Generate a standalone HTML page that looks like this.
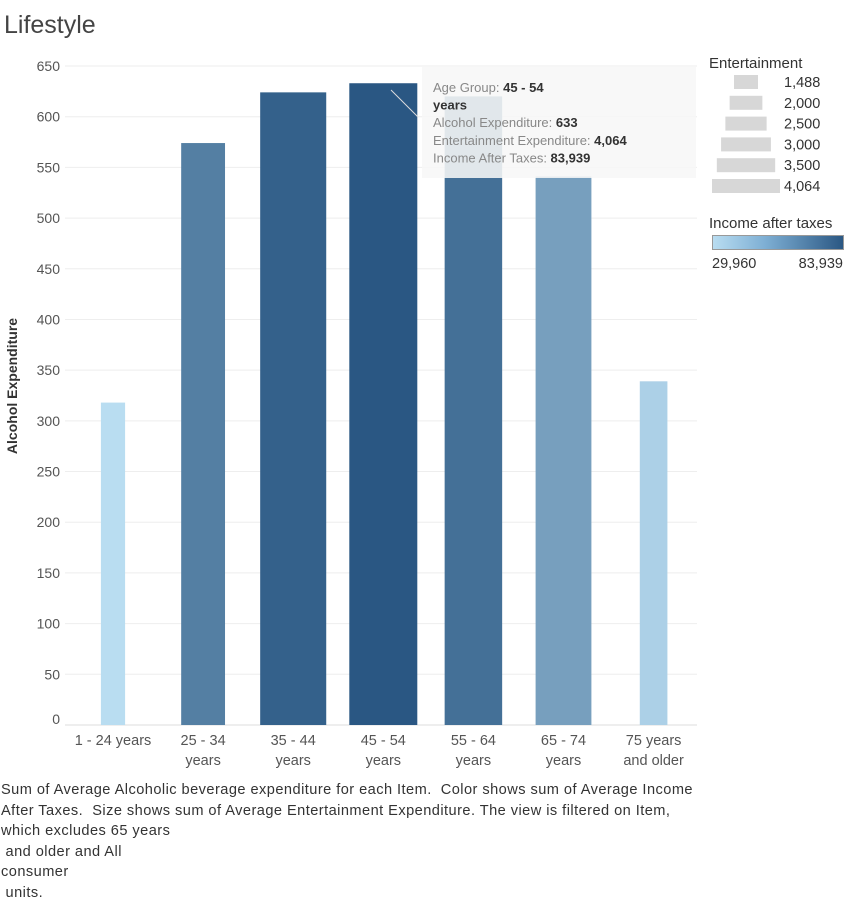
<!DOCTYPE html>
<html><head><meta charset="utf-8"><style>
body{margin:0;width:848px;height:905px;background:#fff;font-family:"Liberation Sans",sans-serif;overflow:hidden;position:relative}
svg{position:absolute;left:0;top:0}
.cap{position:absolute;left:1px;top:780px;font-size:14.6px;letter-spacing:0.45px;color:#333;line-height:20.6px;white-space:nowrap}
</style></head><body>
<svg id="chart" width="848" height="905"></svg>
<div class="cap">Sum of Average Alcoholic beverage expenditure for each Item.&nbsp; Color shows sum of Average Income<br>After Taxes.&nbsp; Size shows sum of Average Entertainment Expenditure. The view is filtered on Item,<br>which excludes 65 years<br>&nbsp;and older and All<br>consumer<br>&nbsp;units.</div>
<script>
const categories=["1 - 24 years","25 - 34 years","35 - 44 years","45 - 54 years","55 - 64 years","65 - 74 years","75 years and older"];
const alcohol=[318,574,624,633,620,541,339];
const entertainment=[1500,2650,3950,4064,3450,3350,1700];
const income=[30000,68000,80000,83939,74000,55000,35000];
const yTicks=[0,50,100,150,200,250,300,350,400,450,500,550,600,650];
const legendSizes=[1488,2000,2500,3000,3500,4064];
const NS="http://www.w3.org/2000/svg",svg=document.getElementById('chart');
function mk(t,a,p){const e=document.createElementNS(NS,t);for(const k in a)e.setAttribute(k,a[k]);(p||svg).appendChild(e);return e;}
const y=v=>725-v*(659/650);
const x=i=>113+i*90.1;
const w=e=>24+(e-1488)/(4064-1488)*44;
function col(v){const t=Math.max(0,Math.min(1,(v-29960)/(83939-29960)));const a=[185,221,241],b=[42,87,131];return `rgb(${a.map((c,i)=>Math.round(c+(b[i]-c)*t)).join(',')})`;}
let t=mk('text',{x:4,y:33,'font-size':25,fill:'#444'});t.textContent='Lifestyle';


yTicks.forEach(v=>{
 const g=mk('line',{x1:65,x2:697,y1:y(v),y2:y(v),stroke:v===0?'#ddd':'#eee','stroke-width':1});
 
 
 const l=mk('text',{x:60,y:y(v)+5-(v===0?6:0),'font-size':14,fill:'#555','text-anchor':'end'});l.textContent=v;
 
 
});
t=mk('text',{x:17,y:386,'font-size':14,fill:'#333','font-weight':'bold','text-anchor':'middle',transform:'rotate(-90 17 386)'});t.textContent='Alcohol Expenditure';


categories.forEach((c,i)=>{
 const bw=w(entertainment[i]);
 const r=mk('rect',{x:x(i)-bw/2,y:y(alcohol[i]),width:bw,height:725-y(alcohol[i]),fill:col(income[i])});
 
 
 const parts=c.startsWith('75')?['75 years','and older']:(c.startsWith('1 -')?[c]:[c.replace(' years',''),'years']);
 parts.forEach((p,j)=>{const l=mk('text',{x:x(i),y:745+j*20,'font-size':14.5,fill:'#555','text-anchor':'middle'});l.textContent=p;
 
 });
});
// tooltip
const tg=mk('g',{});


mk('rect',{x:422,y:67,width:274,height:111,fill:'#f7f7f7','fill-opacity':0.88},tg);
mk('line',{x1:391,y1:90,x2:418,y2:117,stroke:'#ddd','stroke-width':1},tg);
[["Age Group: ","45 - 54"],["","years"],["Alcohol Expenditure: ","633"],["Entertainment Expenditure: ","4,064"],["Income After Taxes: ","83,939"]].forEach((p,j)=>{
 const tx=mk('text',{x:433,y:92+j*17.6,'font-size':13,fill:'#888'},tg);
 const a=mk('tspan',{},tx);a.textContent=p[0];
 const b=mk('tspan',{fill:'#333','font-weight':'bold'},tx);b.textContent=p[1];
});
// legends
t=mk('text',{x:709,y:68,'font-size':15,fill:'#333'});t.textContent='Entertainment';


legendSizes.forEach((s,j)=>{
 const lw=w(s);
 const cy=82+j*20.8;
 const r=mk('rect',{x:746-lw/2,y:cy-7,width:lw,height:14,fill:'#d7d7d7'});
 
 
 const l=mk('text',{x:784,y:cy+5,'font-size':14.5,fill:'#333'});l.textContent=s.toLocaleString('en-US');
 
 
});
t=mk('text',{x:709,y:228,'font-size':15,fill:'#333'});t.textContent='Income after taxes';


const defs=mk('defs',{});const gr=mk('linearGradient',{id:'g1'},defs);
mk('stop',{offset:0,'stop-color':'#b9ddf1'},gr);mk('stop',{offset:0.4,'stop-color':'#7eafd4'},gr);mk('stop',{offset:1,'stop-color':'#2a5783'},gr);
const cr=mk('rect',{x:712.5,y:235.5,width:131,height:14,fill:'url(#g1)',stroke:'#999'});


t=mk('text',{x:712,y:268,'font-size':14.5,fill:'#333'});t.textContent='29,960';


t=mk('text',{x:843,y:268,'font-size':14.5,fill:'#333','text-anchor':'end'});t.textContent='83,939';


</script>
</body></html>
